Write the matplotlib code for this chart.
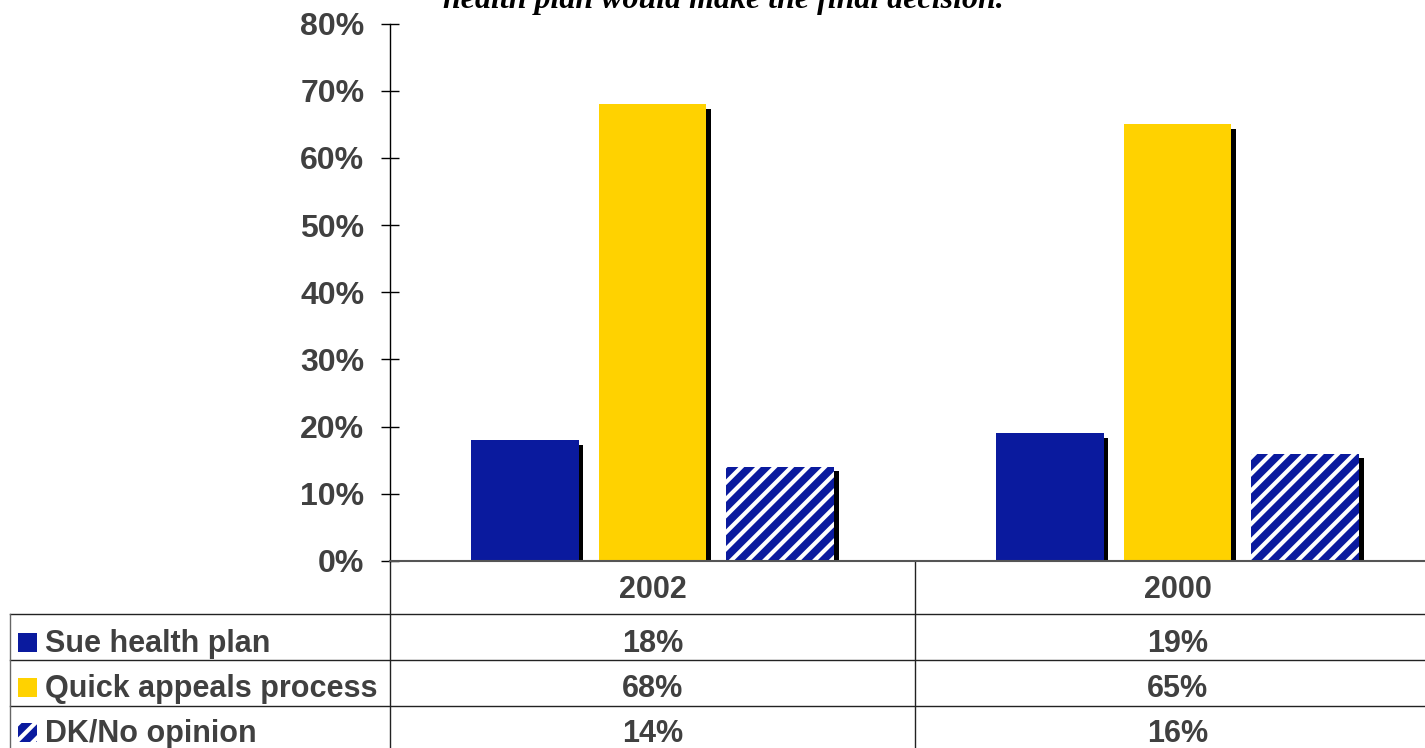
import matplotlib
matplotlib.use("Agg")
import matplotlib.pyplot as plt
from matplotlib.patches import Rectangle
from matplotlib.transforms import ScaledTranslation

# --- data -------------------------------------------------------------
years = ["2002", "2000"]
series_names = ["Sue health plan", "Quick appeals process", "DK/No opinion"]
sue_health_plan = [18, 19]
quick_appeals = [68, 65]
dk_no_opinion = [14, 16]
y_ticks = [0, 10, 20, 30, 40, 50, 60, 70, 80]
title_tail = "health plan would make the final decision."

BLUE = "#0A1A9E"
YELLOW = "#FFD200"
GREY_TXT = "#404040"

plt.rcParams["font.family"] = ["Liberation Sans", "DejaVu Sans"]
plt.rcParams["hatch.linewidth"] = 5.5

W, H = 1425, 748
fig = plt.figure(figsize=(W / 100, H / 100), dpi=100)

# chart area (extends slightly past the right edge of the canvas)
ax = fig.add_axes([390 / W, (H - 561) / H, 1050 / W, 537.5 / H])
ax.set_xlim(0, len(years))
ax.set_ylim(0, 80)

values = [sue_health_plan, quick_appeals, dk_no_opinion]
styles = [
    dict(facecolor=BLUE, edgecolor=BLUE, hatch=None),
    dict(facecolor=YELLOW, edgecolor=YELLOW, hatch=None),
    dict(facecolor="white", edgecolor=BLUE, hatch="//"),
]
bar_w = 0.2057
step = 0.2438
shadow = ax.transData + ScaledTranslation(4.5 / 100, -4.5 / 100, fig.dpi_scale_trans)

for s, (vals, st) in enumerate(zip(values, styles)):
    for g, v in enumerate(vals):
        xc = g + 0.5 + (s - 1) * step
        ax.add_patch(Rectangle((xc - bar_w / 2, 0), bar_w, v, facecolor="black",
                               edgecolor="none", transform=shadow, zorder=2))
        ax.add_patch(Rectangle((xc - bar_w / 2, 0), bar_w, v, facecolor=st["facecolor"],
                               edgecolor=st["edgecolor"], hatch=st["hatch"],
                               linewidth=0, zorder=3))

ax.set_yticks(y_ticks)
ax.set_yticklabels([f"{t}%" for t in y_ticks], fontsize=23, fontweight="bold",
                   color=GREY_TXT)
ax.tick_params(axis="y", direction="inout", length=13, width=1, pad=12, colors="black",
               labelcolor=GREY_TXT)
ax.set_xticks([])
for side in ("top", "right"):
    ax.spines[side].set_visible(False)
ax.spines["left"].set_linewidth(1.0)
ax.spines["bottom"].set_color("#555555")
ax.spines["bottom"].set_linewidth(1.5)
ax.spines["bottom"].set_zorder(4)

# --- data table beneath the chart (pixel coordinates) ----------------
tab = fig.add_axes([0, 0, 1, 1], zorder=-1)
tab.set_xlim(0, W)
tab.set_ylim(H, 0)
tab.axis("off")
tab.patch.set_visible(False)

line_kw = dict(color="#222222", linewidth=1.0)
for yy in (614, 660, 706):
    tab.plot([10, W], [yy, yy], **line_kw)
tab.plot([10, 10], [614, H], color="#666666", linewidth=1.0)
tab.plot([390, 390], [561, H], **line_kw)
tab.plot([915, 915], [561, H], **line_kw)

col_centres = [652.5, 1177.5]
txt_kw = dict(fontsize=22, fontweight="bold", color=GREY_TXT)
for cx, yr in zip(col_centres, years):
    tab.text(cx, 598, yr, ha="center", va="baseline", **txt_kw)

baselines = [652, 697, 742]
for name, vals, st, yb in zip(series_names, values, styles, baselines):
    tab.add_patch(Rectangle((18, yb - 19), 19, 19, facecolor=st["facecolor"],
                            edgecolor=st["edgecolor"], hatch=st["hatch"], linewidth=0))
    tab.text(45, yb, name, ha="left", va="baseline", **txt_kw)
    for cx, v in zip(col_centres, vals):
        tab.text(cx, yb, f"{v}%", ha="center", va="baseline", **txt_kw)

# title (only its last line falls on the canvas)
fig.text(723.5 / W, 1 - 8 / H, title_tail, ha="center", va="baseline", fontsize=23,
         fontweight="bold", fontstyle="italic", family=["Liberation Serif", "DejaVu Serif"])

fig.savefig("out.png", dpi=100)
